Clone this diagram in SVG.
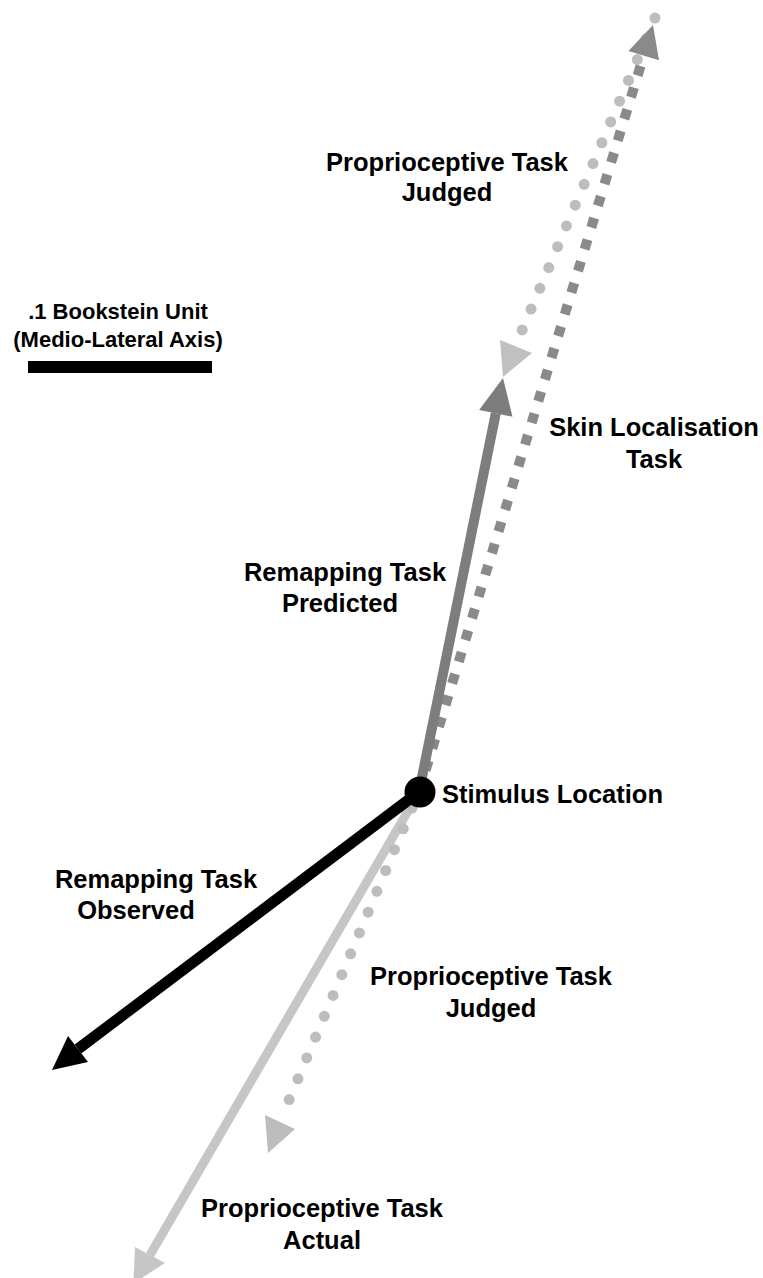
<svg xmlns="http://www.w3.org/2000/svg" width="763" height="1278" viewBox="0 0 763 1278">
<style>
.lbl{font-family:"Liberation Sans",Arial,sans-serif;font-weight:bold;font-size:25.5px;fill:#000;text-anchor:middle}
.lbl2{font-family:"Liberation Sans",Arial,sans-serif;font-weight:bold;font-size:22px;fill:#000;text-anchor:middle}
.dots{fill:none;stroke:#bdbdbd;stroke-width:11;stroke-linecap:round;stroke-dasharray:0 22.6}
.squares{fill:none;stroke:#8a8a8a;stroke-width:10;stroke-dasharray:10 12.7}
</style>
<rect width="763" height="1278" fill="#fff"/>
<g id="connectors">
  <g id="proprio-actual">
    <line x1="419" y1="792" x2="150" y2="1255" stroke="#c6c6c6" stroke-width="9"/>
    <polygon points="133.4,1283.5 135,1247 165,1263" fill="#c6c6c6"/>
  </g>
  <g id="proprio-judged-bottom">
    <line x1="412" y1="808" x2="284" y2="1112" class="dots"/>
    <polygon points="268,1153 265,1115 295,1129" fill="#bdbdbd"/>
  </g>
  <g id="proprio-judged-top">
    <line x1="655" y1="18" x2="520" y2="335" class="dots"/>
    <polygon points="503,377 500,340 532,353" fill="#c0c0c0"/>
  </g>
  <g id="skin-localisation">
    <line x1="419" y1="792" x2="643.7" y2="55.6" class="squares"/>
    <polygon points="653,25 628.4,50.9 659,60.3" fill="#8a8a8a"/>
  </g>
  <g id="remap-predicted">
    <line x1="419" y1="792" x2="495.8" y2="413.3" stroke="#7d7d7d" stroke-width="10"/>
    <polygon points="503,378 479.1,409.9 512.5,416.7" fill="#7d7d7d"/>
  </g>
  <g id="remap-observed">
    <line x1="419" y1="792" x2="78" y2="1049" stroke="#000" stroke-width="11"/>
    <polygon points="52,1070 68,1036 88,1062" fill="#000"/>
  </g>
</g>
<g id="stimulus">
  <circle cx="420" cy="792" r="15.5" fill="#000"/>
  <text x="442" y="803" class="lbl" style="text-anchor:start">Stimulus Location</text>
</g>
<g id="scale-bar">
  <text x="118" y="319" class="lbl2">.1 Bookstein Unit</text>
  <text x="118" y="347" class="lbl2">(Medio-Lateral Axis)</text>
  <rect x="28" y="361" width="184" height="12" fill="#000"/>
</g>
<g id="label-proprio-judged-top">
  <text x="447" y="171" class="lbl">Proprioceptive Task</text>
  <text x="447" y="201" class="lbl">Judged</text>
</g>
<g id="label-skin">
  <text x="654" y="436" class="lbl">Skin Localisation</text>
  <text x="654" y="468" class="lbl">Task</text>
</g>
<g id="label-remap-predicted">
  <text x="345" y="581" class="lbl">Remapping Task</text>
  <text x="340" y="612" class="lbl">Predicted</text>
</g>
<g id="label-remap-observed">
  <text x="156" y="888" class="lbl">Remapping Task</text>
  <text x="136" y="919" class="lbl">Observed</text>
</g>
<g id="label-proprio-judged-bottom">
  <text x="491" y="985" class="lbl">Proprioceptive Task</text>
  <text x="491" y="1017" class="lbl">Judged</text>
</g>
<g id="label-proprio-actual">
  <text x="322" y="1217" class="lbl">Proprioceptive Task</text>
  <text x="322" y="1249" class="lbl">Actual</text>
</g>
</svg>
